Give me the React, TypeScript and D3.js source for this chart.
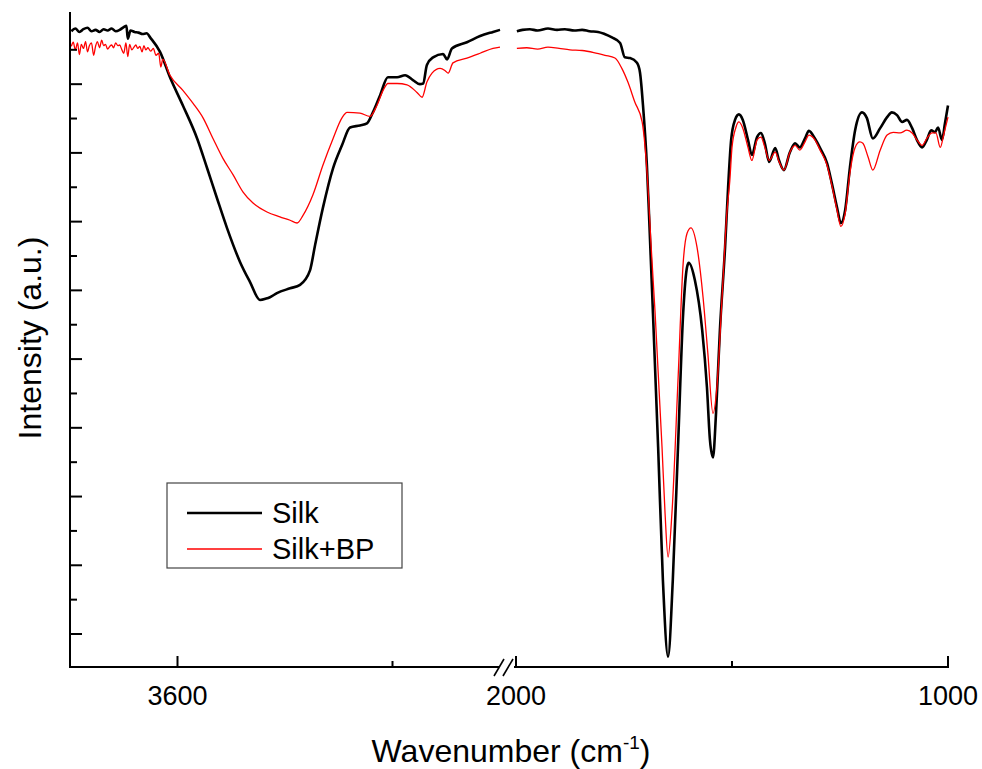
import React from 'react';
import * as d3 from 'd3';

// Wavenumber (cm-1), intensity (a.u.) pairs
const silkLeft: [number, number][] = [
  [3995, 9.77], [3980, 9.81], [3965, 9.76], [3950, 9.80], [3935, 9.82], [3920, 9.77], [3905, 9.79],
  [3890, 9.76], [3875, 9.80], [3860, 9.78], [3845, 9.81], [3830, 9.77], [3815, 9.79], [3800, 9.83],
  [3790, 9.85], [3785, 9.66], [3775, 9.78], [3760, 9.76], [3745, 9.75], [3730, 9.73], [3715, 9.74],
  [3700, 9.67], [3665, 9.47], [3628, 9.10], [3580, 8.69], [3527, 8.21], [3490, 7.78], [3453, 7.34],
  [3416, 6.91], [3367, 6.41], [3330, 6.12], [3293, 5.86], [3270, 5.88], [3256, 5.90], [3230, 5.96],
  [3181, 6.03], [3144, 6.08], [3107, 6.29], [3088, 6.66], [3059, 7.20], [3021, 7.78], [2988, 8.11],
  [2958, 8.37], [2921, 8.40], [2895, 8.43], [2873, 8.59], [2846, 8.84], [2817, 9.10], [2783, 9.10],
  [2753, 9.13], [2724, 9.06], [2698, 9.00], [2686, 9.01], [2672, 9.28], [2649, 9.39], [2612, 9.44],
  [2597, 9.36], [2579, 9.52], [2523, 9.61], [2474, 9.70], [2426, 9.76], [2400, 9.79],
];

const silkBpLeft: [number, number][] = [
  [3995, 9.55], [3988, 9.61], [3980, 9.50], [3972, 9.60], [3965, 9.43], [3958, 9.58], [3950, 9.52],
  [3942, 9.62], [3935, 9.47], [3928, 9.56], [3920, 9.60], [3912, 9.42], [3905, 9.55], [3898, 9.62],
  [3890, 9.53], [3882, 9.64], [3875, 9.56], [3868, 9.58], [3860, 9.51], [3852, 9.55], [3845, 9.57],
  [3838, 9.53], [3830, 9.60], [3822, 9.56], [3815, 9.57], [3808, 9.51], [3800, 9.45], [3792, 9.60],
  [3785, 9.40], [3778, 9.58], [3770, 9.50], [3762, 9.54], [3755, 9.57], [3748, 9.52], [3740, 9.55],
  [3732, 9.47], [3725, 9.56], [3718, 9.50], [3710, 9.53], [3700, 9.48], [3690, 9.52], [3680, 9.42],
  [3670, 9.45], [3662, 9.25], [3655, 9.36], [3628, 9.13], [3580, 8.91], [3542, 8.72], [3505, 8.51],
  [3468, 8.21], [3431, 7.92], [3393, 7.68], [3356, 7.43], [3319, 7.27], [3267, 7.14], [3219, 7.07],
  [3181, 7.02], [3155, 6.98], [3133, 7.09], [3096, 7.39], [3059, 7.82], [3021, 8.21], [2988, 8.51],
  [2969, 8.59], [2921, 8.58], [2884, 8.53], [2858, 8.69], [2835, 8.91], [2817, 9.01], [2783, 9.01],
  [2746, 8.99], [2709, 8.88], [2690, 8.81], [2672, 9.03], [2653, 9.16], [2623, 9.23], [2605, 9.20],
  [2593, 9.16], [2575, 9.31], [2523, 9.38], [2474, 9.45], [2426, 9.52], [2400, 9.54],
];

const silkRight: [number, number][] = [
  [1998, 9.77], [1985, 9.79], [1968, 9.80], [1950, 9.78], [1926, 9.81], [1905, 9.79], [1887, 9.80],
  [1865, 9.78], [1847, 9.79], [1830, 9.77], [1810, 9.76], [1795, 9.73], [1778, 9.68], [1759, 9.60],
  [1748, 9.39], [1736, 9.38], [1720, 9.31], [1713, 9.17], [1706, 8.69], [1697, 7.82], [1692, 7.09],
  [1683, 5.67], [1671, 3.72], [1660, 1.79], [1648, 0.67], [1637, 1.79], [1625, 3.72], [1613, 5.67],
  [1604, 6.34], [1600, 6.40], [1586, 6.15], [1569, 5.42], [1558, 4.59], [1551, 3.82], [1544, 3.57],
  [1537, 4.21], [1528, 5.42], [1516, 6.63], [1509, 7.50], [1502, 8.19], [1493, 8.48], [1484, 8.56],
  [1475, 8.48], [1463, 8.19], [1454, 7.97], [1442, 8.23], [1433, 8.29], [1424, 8.14], [1414, 7.87],
  [1400, 8.07], [1391, 7.89], [1380, 7.75], [1366, 8.01], [1354, 8.14], [1343, 8.08], [1331, 8.21],
  [1322, 8.32], [1308, 8.21], [1296, 8.07], [1280, 7.85], [1269, 7.56], [1257, 7.21], [1248, 6.98],
  [1238, 7.17], [1227, 7.79], [1215, 8.33], [1199, 8.59], [1188, 8.51], [1174, 8.21], [1157, 8.36],
  [1141, 8.52], [1130, 8.59], [1118, 8.55], [1106, 8.45], [1095, 8.48], [1083, 8.36], [1072, 8.19],
  [1060, 8.08], [1049, 8.19], [1039, 8.33], [1030, 8.30], [1023, 8.37], [1014, 8.19], [1007, 8.43],
  [1000, 8.69],
];

const silkBpRight: [number, number][] = [
  [1998, 9.52], [1975, 9.53], [1950, 9.51], [1926, 9.54], [1900, 9.52], [1875, 9.50], [1847, 9.49],
  [1820, 9.46], [1794, 9.42], [1771, 9.38], [1755, 9.23], [1741, 9.03], [1725, 8.74], [1708, 8.45],
  [1701, 8.07], [1694, 7.45], [1688, 6.73], [1678, 5.67], [1662, 3.72], [1655, 2.76], [1648, 2.12],
  [1639, 2.76], [1625, 4.69], [1613, 6.40], [1604, 6.83], [1595, 6.91], [1581, 6.63], [1567, 5.90],
  [1556, 5.09], [1544, 4.21], [1535, 4.59], [1523, 5.90], [1512, 7.12], [1505, 7.60], [1500, 8.08],
  [1491, 8.37], [1484, 8.45], [1475, 8.36], [1463, 8.08], [1454, 7.89], [1442, 8.19], [1433, 8.23],
  [1424, 8.08], [1414, 7.89], [1400, 8.01], [1391, 7.87], [1380, 7.75], [1366, 8.01], [1354, 8.11],
  [1343, 8.04], [1331, 8.16], [1322, 8.26], [1308, 8.19], [1296, 8.04], [1280, 7.82], [1269, 7.53],
  [1257, 7.17], [1248, 6.93], [1238, 7.12], [1227, 7.71], [1215, 8.08], [1204, 8.16], [1197, 8.14],
  [1185, 7.94], [1174, 7.75], [1157, 8.04], [1141, 8.26], [1127, 8.30], [1111, 8.29], [1095, 8.33],
  [1083, 8.29], [1072, 8.19], [1060, 8.11], [1049, 8.21], [1037, 8.29], [1028, 8.29], [1018, 8.08],
  [1009, 8.29], [1000, 8.52],
];

const seriesNames = ['Silk', 'Silk+BP'];
const seriesColors = ['#000000', '#ff0000'];
const seriesWidths = [2.6, 1.3];

const leftDomain = [4000, 2400];
const rightDomain = [2000, 1000];
const leftMajorTicks = [3600];
const leftMinorTicks = [2800];
const rightMajorTicks = [2000, 1000];
const rightMinorTicks = [1500];
const tickLabels = [
  { v: 3600, seg: 'L', text: '3600' },
  { v: 2000, seg: 'R', text: '2000' },
  { v: 1000, seg: 'R', text: '1000' },
];
const yDomain = [0.52, 10.05];
const yMajorTicks = d3.range(1, 10, 1);
const yMinorTicks = d3.range(1.5, 10, 1);

const FONT = '"Liberation Sans", Arial, Helvetica, sans-serif';

export default function App() {
  const W = 982;
  const H = 769;
  const x0 = 70;
  const yBottom = 667;
  const yTop = 12;

  const xL = d3.scaleLinear().domain(leftDomain).range([x0, 500]);
  const xR = d3.scaleLinear().domain(rightDomain).range([516, 948]);
  const y = d3.scaleLinear().domain(yDomain).range([yBottom, yTop]);

  const lineL = d3
    .line<[number, number]>()
    .x((d) => xL(d[0]))
    .y((d) => y(d[1]))
    .curve(d3.curveMonotoneX);
  const lineR = d3
    .line<[number, number]>()
    .x((d) => xR(d[0]))
    .y((d) => y(d[1]))
    .curve(d3.curveMonotoneX);

  const data = [
    { left: silkLeft, right: silkRight },
    { left: silkBpLeft, right: silkBpRight },
  ];

  const breakX = 503;

  return (
    <svg
      width={W}
      height={H}
      style={{ position: 'absolute', left: 0, top: 0, background: '#fff' }}
      fontFamily={FONT}
    >
      <rect width={W} height={H} fill="#fff" />
      {/* curves */}
      {data.map((s, i) => (
        <g key={i} fill="none" stroke={seriesColors[i]} strokeWidth={seriesWidths[i]} strokeLinejoin="round">
          <path d={lineL(s.left) || ''} />
          <path d={lineR(s.right) || ''} />
        </g>
      ))}

      {/* axes */}
      <g stroke="#000" strokeWidth={2} fill="none">
        <line x1={x0} y1={yTop} x2={x0} y2={yBottom + 1} />
        <line x1={x0 - 1} y1={yBottom} x2={breakX - 4} y2={yBottom} />
        <line x1={breakX + 11} y1={yBottom} x2={xR(1000) + 1} y2={yBottom} />
        {/* break marks */}
        <line x1={breakX - 9} y1={yBottom + 9} x2={breakX + 1} y2={yBottom - 8} strokeWidth={1.6} />
        <line x1={breakX} y1={yBottom + 9} x2={breakX + 10} y2={yBottom - 8} strokeWidth={1.6} />
        {leftMajorTicks.map((t) => (
          <line key={'lM' + t} x1={xL(t)} x2={xL(t)} y1={yBottom} y2={yBottom - 11} />
        ))}
        {leftMinorTicks.map((t) => (
          <line key={'lm' + t} x1={xL(t)} x2={xL(t)} y1={yBottom} y2={yBottom - 6} />
        ))}
        {rightMajorTicks.map((t) => (
          <line key={'rM' + t} x1={xR(t)} x2={xR(t)} y1={yBottom} y2={yBottom - 11} />
        ))}
        {rightMinorTicks.map((t) => (
          <line key={'rm' + t} x1={xR(t)} x2={xR(t)} y1={yBottom} y2={yBottom - 6} />
        ))}
        {yMajorTicks.map((t) => (
          <line key={'yM' + t} x1={x0} x2={x0 + 12} y1={y(t)} y2={y(t)} />
        ))}
        {yMinorTicks.map((t) => (
          <line key={'ym' + t} x1={x0} x2={x0 + 7} y1={y(t)} y2={y(t)} />
        ))}
      </g>

      {/* tick labels */}
      {tickLabels.map((t) => (
        <text
          key={t.text}
          x={t.seg === 'L' ? xL(t.v) : xR(t.v)}
          y={705}
          textAnchor="middle"
          fontSize={27}
          fill="#000"
        >
          {t.text}
        </text>
      ))}

      {/* axis titles */}
      <text x={511} y={762} textAnchor="middle" fontSize={32} fill="#000">
        Wavenumber (cm
        <tspan fontSize={19} dy={-13}>-1</tspan>
        <tspan dy={13}>)</tspan>
      </text>
      <text
        transform="translate(41,338) rotate(-90)"
        textAnchor="middle"
        fontSize={32}
        fill="#000"
      >
        Intensity (a.u.)
      </text>

      {/* legend */}
      <g>
        <rect x={167} y={483} width={235} height={85} fill="#fff" stroke="#444" strokeWidth={1.2} />
        {seriesNames.map((n, i) => (
          <g key={n}>
            <line
              x1={187}
              x2={262}
              y1={513 + i * 36}
              y2={513 + i * 36}
              stroke={seriesColors[i]}
              strokeWidth={seriesWidths[i] + (i === 0 ? 0 : 0.3)}
            />
            <text x={272} y={523 + i * 36} fontSize={29} fill="#000">
              {n}
            </text>
          </g>
        ))}
      </g>
    </svg>
  );
}
